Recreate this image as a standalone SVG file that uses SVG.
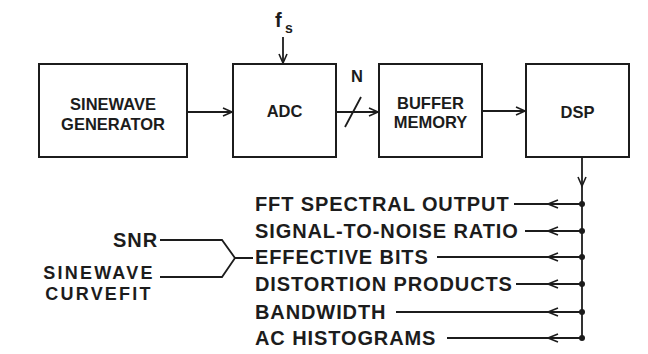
<svg xmlns="http://www.w3.org/2000/svg" width="648" height="354" viewBox="0 0 648 354">
<style>
.box{fill:#fff;stroke:#1c1c1c;stroke-width:2}
.bt{font-family:"Liberation Sans",Arial,sans-serif;font-weight:bold;font-size:16.5px;fill:#1c1c1c;text-anchor:middle}
.lt{font-family:"Liberation Sans",Arial,sans-serif;font-weight:bold;font-size:20px;letter-spacing:0.9px;fill:#1c1c1c}
.ln{fill:none;stroke:#1c1c1c;stroke-width:1.8}
.hd{fill:none;stroke:#1c1c1c;stroke-width:1.6}
.dot{fill:#1c1c1c}
</style>
<rect width="648" height="354" fill="#fff"/>
<g id="sinewave-generator">
<rect class="box" x="39" y="64" width="148" height="93"/>
<text class="bt" x="113" y="110">SINEWAVE</text>
<text class="bt" x="113" y="130">GENERATOR</text>
</g>
<g id="adc">
<rect class="box" x="233" y="64" width="103" height="93"/>
<text class="bt" x="284.5" y="117">ADC</text>
</g>
<g id="buffer-memory">
<rect class="box" x="379" y="64" width="103" height="93"/>
<text class="bt" x="430.5" y="109">BUFFER</text>
<text class="bt" x="430.5" y="128">MEMORY</text>
</g>
<g id="dsp">
<rect class="box" x="526" y="64" width="103" height="93"/>
<text class="bt" x="577.5" y="118">DSP</text>
</g>
<g id="fs-label">
<text font-family="Liberation Sans,Arial,sans-serif" font-weight="bold" fill="#1c1c1c"><tspan x="275" y="27" font-size="20">f</tspan><tspan x="285" y="33" font-size="14">s</tspan></text>
</g>
<g id="n-label">
<text class="bt" x="357" y="82">N</text>
</g>
<g id="outputs">
<text class="lt" x="255" y="211">FFT SPECTRAL OUTPUT</text>
<text class="lt" x="255" y="238">SIGNAL-TO-NOISE RATIO</text>
<text class="lt" x="255" y="264">EFFECTIVE BITS</text>
<text class="lt" x="255" y="291">DISTORTION PRODUCTS</text>
<text class="lt" x="255" y="319">BANDWIDTH</text>
<text class="lt" x="255" y="345">AC HISTOGRAMS</text>
</g>
<g id="methods">
<text class="lt" x="158" y="247" text-anchor="end">SNR</text>
<text class="lt" x="99" y="279" text-anchor="middle" style="font-size:18px;letter-spacing:2.2px">SINEWAVE</text>
<text class="lt" x="99" y="300" text-anchor="middle" style="font-size:18px;letter-spacing:2.2px">CURVEFIT</text>
</g>
<g id="connectors">
<line class="ln" x1="187" y1="112" x2="232" y2="112"/>
<path class="hd" d="M223,108 L232,112 L223,116"/>
<line class="ln" x1="336" y1="112" x2="378" y2="112"/>
<path class="hd" d="M369,108 L378,112 L369,116"/>
<line class="ln" x1="345" y1="127" x2="361" y2="97"/>
<line class="ln" x1="482" y1="111" x2="525" y2="111"/>
<path class="hd" d="M516,107 L525,111 L516,115"/>
<line class="ln" x1="283" y1="37" x2="283" y2="63"/>
<path class="hd" d="M279,54 L283,63 L287,54"/>
<line class="ln" x1="582" y1="157" x2="582" y2="338"/>
<path class="hd" d="M578,177 L582,186 L586,177"/>
<line class="ln" x1="514" y1="204" x2="582" y2="204"/>
<line class="ln" x1="525" y1="231" x2="582" y2="231"/>
<line class="ln" x1="437" y1="257" x2="582" y2="257"/>
<line class="ln" x1="516" y1="284" x2="582" y2="284"/>
<line class="ln" x1="396" y1="312" x2="582" y2="312"/>
<line class="ln" x1="447" y1="338" x2="582" y2="338"/>
<path class="hd" d="M558,200 L548,204 L558,208"/>
<path class="hd" d="M558,227 L548,231 L558,235"/>
<path class="hd" d="M558,253 L548,257 L558,261"/>
<path class="hd" d="M558,280 L548,284 L558,288"/>
<path class="hd" d="M558,308 L548,312 L558,316"/>
<path class="hd" d="M558,334 L548,338 L558,342"/>
<circle class="dot" cx="582" cy="204" r="3"/>
<circle class="dot" cx="582" cy="231" r="3"/>
<circle class="dot" cx="582" cy="257" r="3"/>
<circle class="dot" cx="582" cy="284" r="3"/>
<circle class="dot" cx="582" cy="312" r="3"/>
<circle class="dot" cx="582" cy="338" r="3"/>
<polyline class="ln" points="160,240 222,240 235,258 253,258"/>
<polyline class="ln" points="160,277 222,277 235,258"/>
</g>
</svg>
